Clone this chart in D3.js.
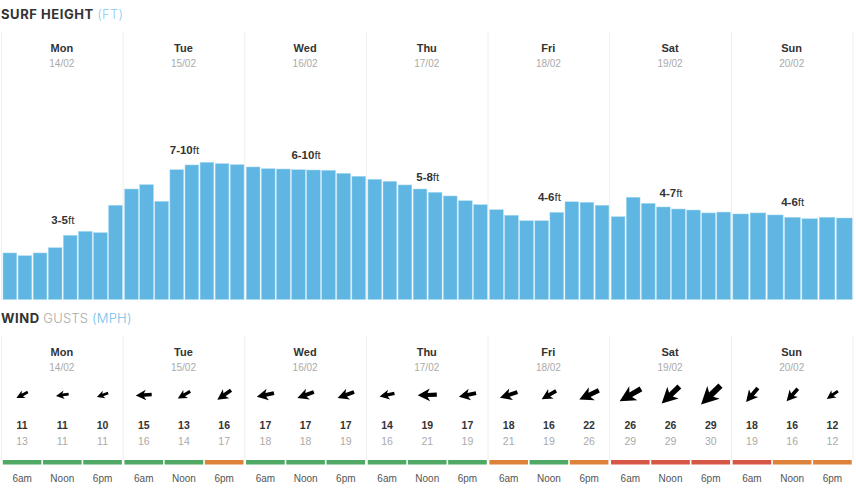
<!DOCTYPE html>
<html lang="en">

<head>
    <meta charset="UTF-8" />
    <title>Surf Height and Wind Gusts</title>
    <script src="https://d3js.org/d3.v7.min.js"></script>
    <style>
        html,
        body {
            margin: 0;
            padding: 0;
            background: #fff;
            overflow: hidden;
        }

        svg {
            display: block;
            font-family: "Liberation Sans", Arial, sans-serif;
        }

        .title {
            font-family: Inter, sans-serif;
            font-size: 13px;
            letter-spacing: 0.3px;
        }

        .day { font-size: 11px; font-weight: bold; fill: #333; text-anchor: middle; }
        .date { font-size: 10px; fill: #aaa; text-anchor: middle; }
        .divider { stroke: #eeeeee; stroke-width: 1; }
    </style>
</head>

<body>
    <svg width="856" height="491"></svg>

    <script>
        const svg = d3.select("svg");

        const colors = { green: "#4fa965", orange: "#dc8239", red: "#d65745" };

        // surf: height in ft per forecast step, label: text and height in ft of the label baseline
        // wind: [speed, gust, heading in degrees, rating]
        const days = [
            {
                day: "Mon", date: "14/02", range: "3-5", labelAt: 5.21,
                surf: [3.21, 3.02, 3.21, 3.57, 4.43, 4.70, 4.61, 6.50],
                wind: [[11, 13, 243, "green"], [11, 11, 262, "green"], [10, 11, 250, "green"]],
            },
            {
                day: "Tue", date: "15/02", range: "7-10", labelAt: 10.06,
                surf: [7.62, 7.92, 6.77, 8.95, 9.28, 9.46, 9.37, 9.30],
                wind: [[15, 16, 267, "green"], [13, 14, 240, "green"], [16, 17, 235, "orange"]],
            },
            {
                day: "Wed", date: "16/02", range: "6-10", labelAt: 9.71,
                surf: [9.14, 9.02, 9.00, 8.95, 8.93, 8.91, 8.70, 8.50],
                wind: [[17, 18, 258, "green"], [17, 18, 250, "green"], [17, 19, 250, "green"]],
            },
            {
                day: "Thu", date: "17/02", range: "5-8", labelAt: 8.17,
                surf: [8.29, 8.15, 7.90, 7.62, 7.39, 7.14, 6.81, 6.54],
                wind: [[14, 16, 258, "green"], [19, 21, 268, "green"], [17, 19, 258, "green"]],
            },
            {
                day: "Fri", date: "18/02", range: "4-6", labelAt: 6.81,
                surf: [6.19, 5.81, 5.43, 5.43, 6.01, 6.74, 6.70, 6.50],
                wind: [[18, 21, 252, "orange"], [16, 19, 240, "green"], [22, 26, 245, "orange"]],
            },
            {
                day: "Sat", date: "19/02", range: "4-7", labelAt: 7.07,
                surf: [5.71, 7.05, 6.63, 6.38, 6.24, 6.17, 5.97, 6.03],
                wind: [[26, 29, 240, "red"], [26, 29, 226, "red"], [29, 30, 226, "red"]],
            },
            {
                day: "Sun", date: "20/02", range: "4-6", labelAt: 6.47,
                surf: [5.90, 5.97, 5.83, 5.67, 5.57, 5.67, 5.62],
                wind: [[18, 19, 220, "red"], [16, 16, 222, "orange"], [12, 12, 235, "orange"]],
            },
        ];
        const times = ["6am", "Noon", "6pm"];

        const x = d3.scaleBand().domain(days.map(d => d.day)).range([1, 852.5]);
        const y = d3.scaleLinear().domain([0, 18]).range([299.5, 38.5]);

        // Section titles
        function title(yPos, parts) {
            const t = svg.append("text").attr("class", "title").attr("x", 1).attr("y", yPos);
            parts.forEach(p => t.append("tspan")
                .attr("fill", p[1])
                .attr("font-weight", p[2])
                .attr("letter-spacing", p[2] === 700 ? "0.55px" : "0.2px")
                .text(p[0]));
        }
        title(18.5, [["SURF HEIGHT ", "#333", 700], ["(FT)", "#8ccdee", 300]]);
        title(323, [["WIND ", "#333", 700], ["GUSTS ", "#aaa", 300], ["(MPH)", "#6fc0ea", 300]]);

        // Dividers for both panels
        const edges = days.map(d => x(d.day)).concat(x.range()[1]);
        [[32, 300], [336, 460]].forEach(([y1, y2]) => {
            svg.append("g").selectAll("line").data(edges).join("line")
                .attr("class", "divider")
                .attr("x1", d => d + 0.5).attr("x2", d => d + 0.5)
                .attr("y1", y1).attr("y2", y2);
        });

        // Day headers for both panels
        [[51.5, 66.5], [355.5, 371]].forEach(([yDay, yDate]) => {
            const head = svg.append("g").selectAll("g").data(days).join("g")
                .attr("transform", d => `translate(${x(d.day) + x.bandwidth() / 2},0)`);
            head.append("text").attr("class", "day").attr("y", yDay).text(d => d.day);
            head.append("text").attr("class", "date").attr("y", yDate).text(d => d.date);
        });

        // Surf bars
        const surfGroups = svg.append("g").selectAll("g").data(days).join("g");
        surfGroups.each(function (d) {
            const inner = d3.scaleBand()
                .domain(d3.range(d.surf.length))
                .range([x(d.day) + 2, x(d.day) + x.bandwidth() - 0.3])
                .paddingInner(0.09);
            d3.select(this).selectAll("rect").data(d.surf).join("rect")
                .attr("x", (v, i) => inner(i))
                .attr("y", v => y(v))
                .attr("width", inner.bandwidth())
                .attr("height", v => y(0) - y(v))
                .attr("fill", "#5fb6e3")
                .attr("stroke", "#a8d9f1")
                .attr("stroke-width", 0.5);
        });

        // Surf range labels
        const surfLabels = svg.append("g").selectAll("text").data(days).join("text")
            .attr("x", d => x(d.day) + x.bandwidth() / 2 + 1)
            .attr("y", d => y(d.labelAt))
            .attr("text-anchor", "middle")
            .attr("font-size", 11.5)
            .attr("fill", "#333");
        surfLabels.append("tspan").attr("font-weight", "bold").text(d => d.range);
        surfLabels.append("tspan").text("ft");

        // Wind columns
        const arrow = "M0,-0.5L0.33,0.14L0.11,0.02L0.11,0.5L-0.11,0.5L-0.11,0.02L-0.33,0.14Z";
        const arrowSize = d3.scaleLinear().domain([10, 29]).range([12, 27]);

        const windGroups = svg.append("g").selectAll("g").data(days).join("g");
        windGroups.each(function (d) {
            const inner = d3.scaleBand()
                .domain(times)
                .range([x(d.day) + 1, x(d.day) + x.bandwidth()]);
            const g = d3.select(this);
            const rows = d.wind.map((w, i) => ({ time: times[i], speed: w[0], gust: w[1], heading: w[2], rating: w[3] }));
            const cx = r => inner(r.time) + inner.bandwidth() / 2;

            g.selectAll("path").data(rows).join("path")
                .attr("d", arrow)
                .attr("fill", "#000")
                .attr("transform", r => `translate(${cx(r)},395) rotate(${r.heading}) scale(${arrowSize(r.speed)})`);

            g.selectAll(".speed").data(rows).join("text")
                .attr("class", "speed")
                .attr("x", cx).attr("y", 428.5)
                .attr("text-anchor", "middle")
                .attr("font-size", 10.5).attr("font-weight", "bold").attr("fill", "#333")
                .text(r => r.speed);

            g.selectAll(".gust").data(rows).join("text")
                .attr("class", "gust")
                .attr("x", cx).attr("y", 445)
                .attr("text-anchor", "middle")
                .attr("font-size", 10.5).attr("fill", "#aaa")
                .text(r => r.gust);

            g.selectAll("rect").data(rows).join("rect")
                .attr("x", r => inner(r.time) + 0.8)
                .attr("y", 460)
                .attr("width", inner.bandwidth() - 1.6)
                .attr("height", 4.5)
                .attr("fill", r => colors[r.rating]);

            // Time labels come from a bottom axis with no line or ticks
            const axis = g.append("g")
                .attr("transform", "translate(0,474.5)")
                .call(d3.axisBottom(inner).tickSize(0).tickPadding(0));
            axis.select(".domain").remove();
            axis.selectAll("text")
                .attr("font-family", "'Liberation Sans', Arial, sans-serif")
                .attr("font-size", 10)
                .attr("fill", "#555");
        });
    </script>
</body>

</html>
